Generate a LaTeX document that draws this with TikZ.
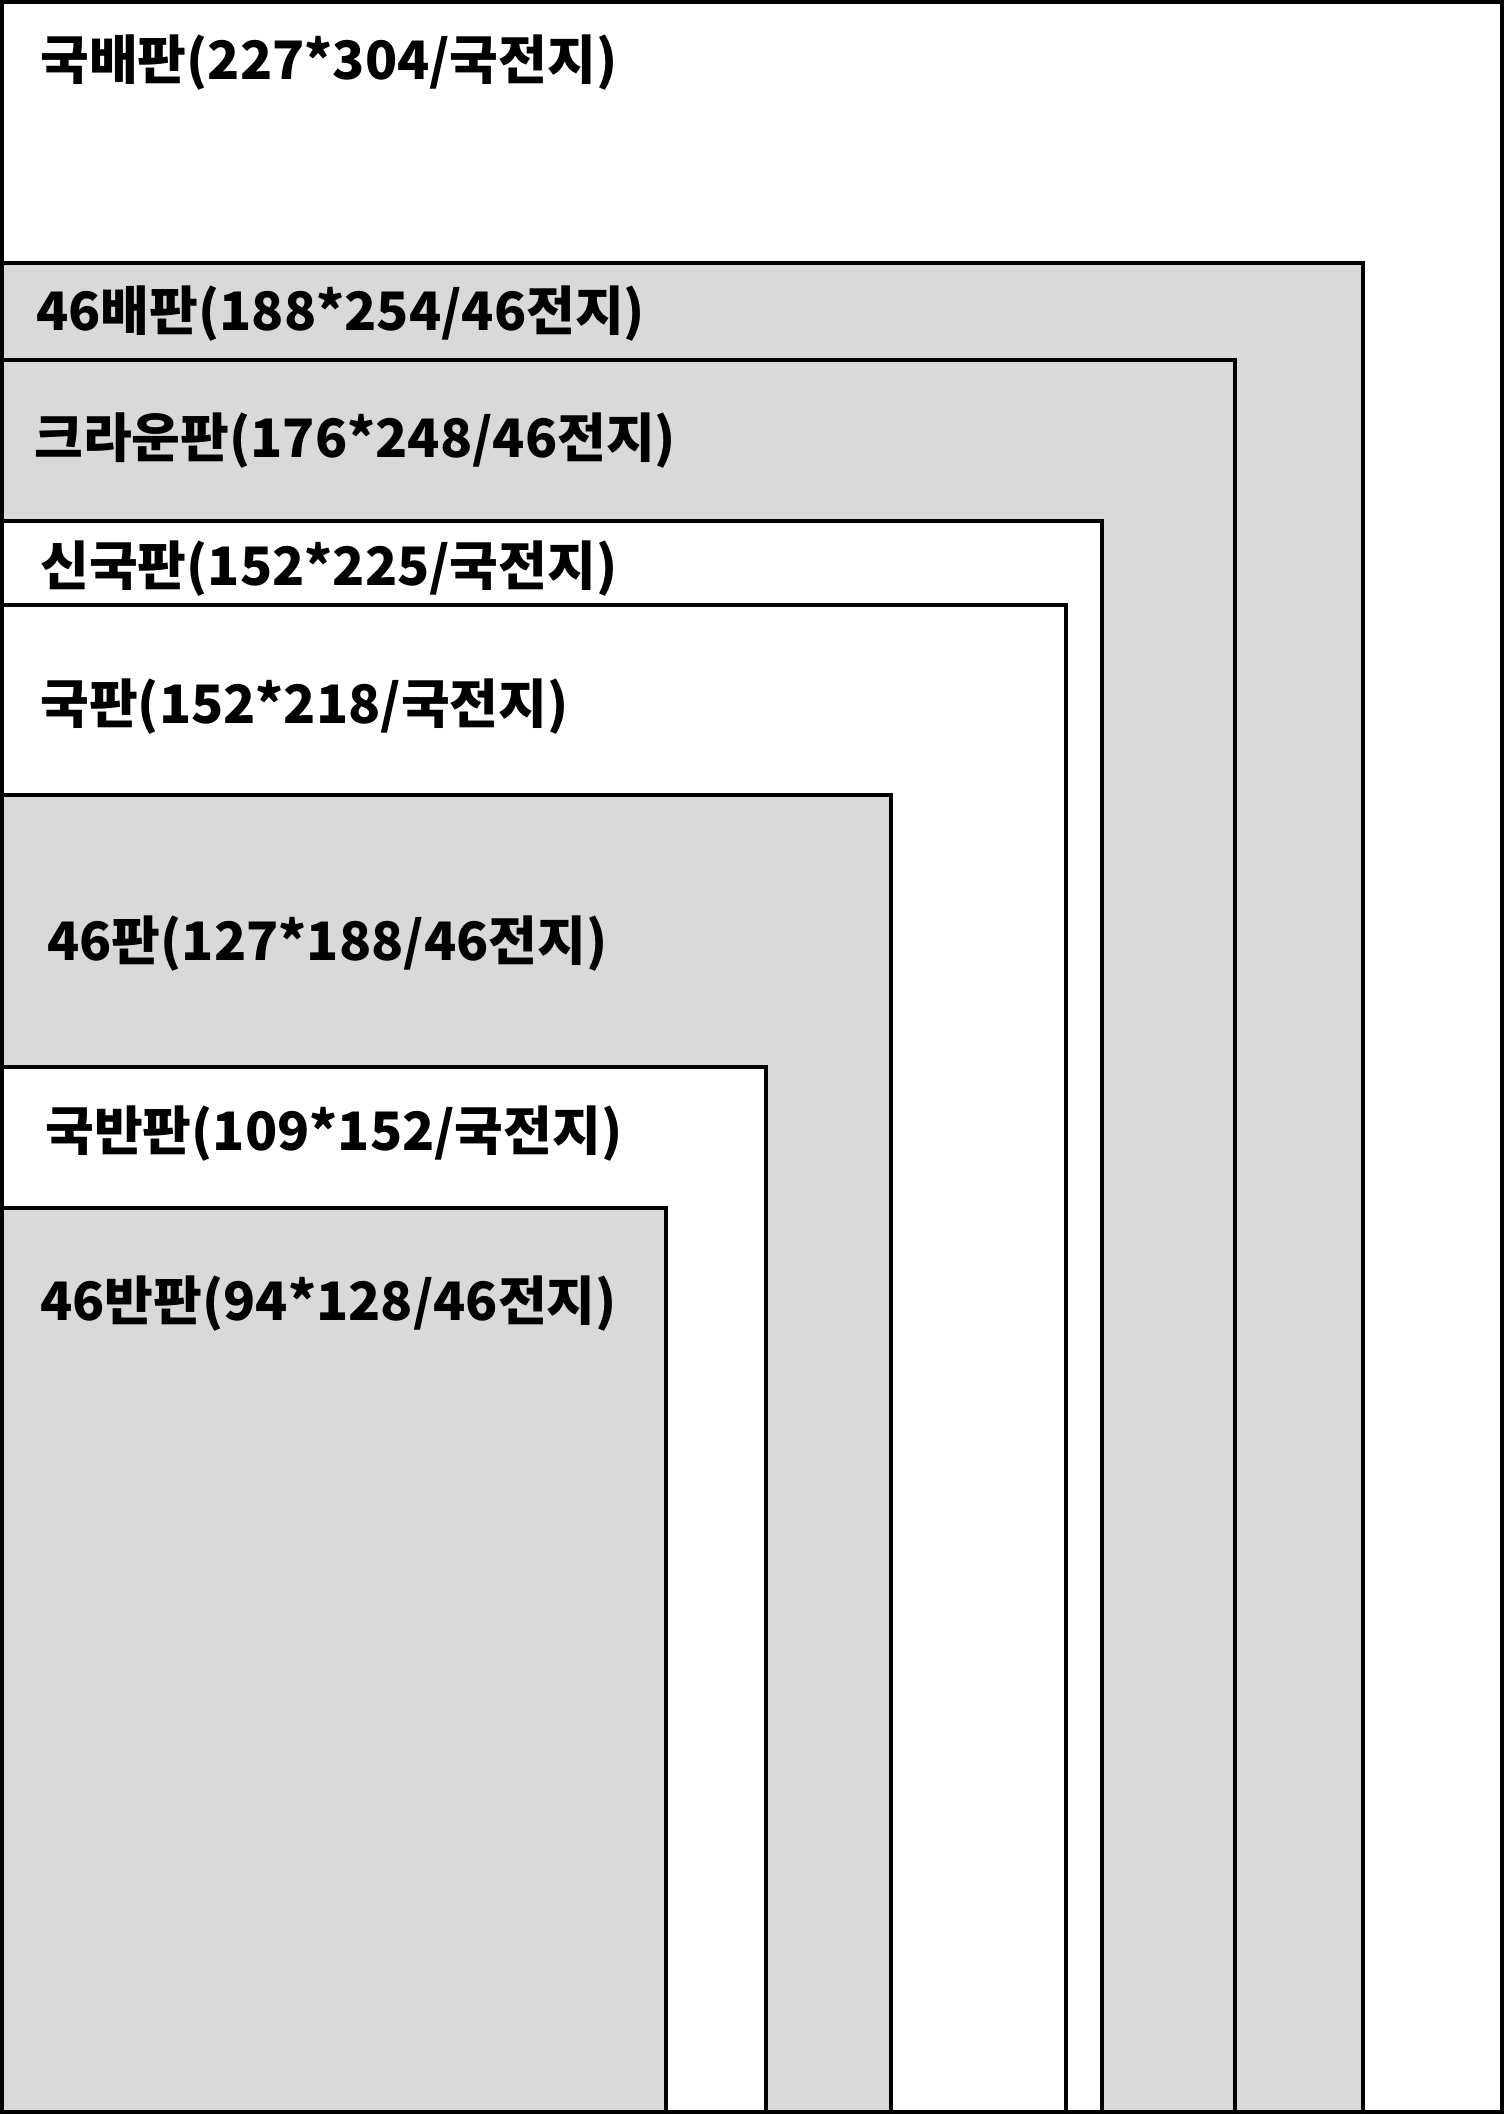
\documentclass[tikz,border=0pt]{standalone}
\usepackage{fontspec}
\newfontfamily\krfont{Noto Sans CJK KR}
\definecolor{pangray}{HTML}{D9D9D9}
\begin{document}
\begin{tikzpicture}[x=0.5pt,y=-0.5pt]
\tikzstyle{every node}=[font=\krfont\bfseries\fontsize{26.5}{30}\selectfont,anchor=base west,inner sep=0pt]
\useasboundingbox (0,0) rectangle (1504,2114);
\foreach \r/\t/\f in {1502/2/white,1363/263/pangray,1235/360/pangray,1102/521/white,
 1066/605/white,891/795/pangray,766/1067/white,666/1208/pangray}
 \draw[line width=2pt,fill=\f] (2,2112) rectangle (\r,\t);
\node (kukbae) at (40,80) {국배판(227*304/국전지)};
\node (sabae) at (36,330) {46배판(188*254/46전지)};
\node (crown) at (34,457) {크라운판(176*248/46전지)};
\node (sinkuk) at (40,585) {신국판(152*225/국전지)};
\node (kuk) at (40,723) {국판(152*218/국전지)};
\node (sayuk) at (47,960) {46판(127*188/46전지)};
\node (kukban) at (45,1150) {국반판(109*152/국전지)};
\node (saban) at (40,1320) {46반판(94*128/46전지)};
\end{tikzpicture}
\end{document}
